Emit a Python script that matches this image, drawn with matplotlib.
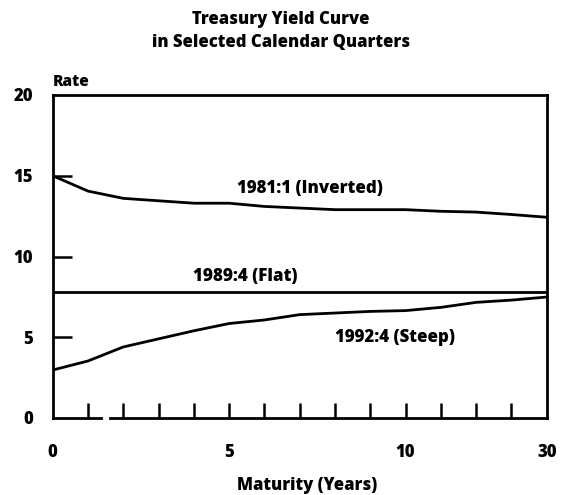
import matplotlib
matplotlib.use("Agg")
import matplotlib.pyplot as plt

# ---- data ----
maturity_pos = [0, 1, 2, 3, 4, 5, 6, 7, 8, 9, 10, 11, 12, 13, 14]
inverted_1981 = [15.0, 14.05, 13.6, 13.45, 13.3, 13.3, 13.1, 13.0, 12.9, 12.9, 12.9, 12.8, 12.75, 12.6, 12.43]
flat_1989 = [7.8] * 15
steep_1992 = [2.97, 3.53, 4.4, 4.9, 5.4, 5.85, 6.07, 6.4, 6.5, 6.6, 6.65, 6.85, 7.16, 7.3, 7.49]
xtick_pos = [0, 5, 10, 14]
xtick_labels = ["0", "5", "10", "30"]
ytick_vals = [0, 5, 10, 15, 20]
inner_xticks = list(range(1, 14))
inner_yticks = [5, 10, 15]
series_labels = ["1981:1 (Inverted)", "1989:4 (Flat)", "1992:4 (Steep)"]
title_lines = ["Treasury Yield Curve", "in Selected Calendar Quarters"]

plt.rcParams["font.family"] = ["Open Sans", "DejaVu Sans"]
W = 800
FW, FH = 566, 495

fig = plt.figure(figsize=(5.66, 4.95), dpi=100)
ax = fig.add_axes([52.7 / FW, 1 - 418 / FH, 494 / FW, 323 / FH])

lw = 2.0
ax.plot(maturity_pos, inverted_1981, color="black", lw=lw)
ax.plot(maturity_pos, flat_1989, color="black", lw=lw)
ax.plot(maturity_pos, steep_1992, color="black", lw=lw)

ax.set_xlim(0, 14)
ax.set_ylim(0, 20)

for s in ax.spines.values():
    s.set_linewidth(2.0)
ax.spines["bottom"].set_visible(False)
# bottom axis line with a small break between 1 and 2
xt = ax.get_xaxis_transform()
ax.plot([0, 1.38], [0, 0], color="black", lw=2.0, transform=xt, clip_on=False, solid_capstyle="projecting")
ax.plot([1.63, 14], [0, 0], color="black", lw=2.0, transform=xt, clip_on=False, solid_capstyle="projecting")

ax.xaxis.remove_overlapping_locs = False
ax.yaxis.remove_overlapping_locs = False

ax.set_xticks(xtick_pos, xtick_labels)
ax.tick_params(axis="x", which="major", length=0, pad=19, labelsize=12)
ax.set_xticks(inner_xticks, minor=True)
ax.tick_params(axis="x", which="minor", direction="in", length=11, width=1.8)

ax.set_yticks(ytick_vals, [str(v) for v in ytick_vals])
ax.tick_params(axis="y", which="major", length=0, pad=14, labelsize=12)
ax.set_yticks(inner_yticks, minor=True)
ax.tick_params(axis="y", which="minor", direction="in", length=14, width=1.8)
for lab in ax.get_xticklabels() + ax.get_yticklabels():
    lab.set_fontweight(W)

def px(x, y):
    # figure-pixel (from top-left) -> figure fraction
    return x / FW, 1 - y / FH

texts = []
def add(txt, cx, cy, width, ha="center"):
    fx, fy = px(cx, cy)
    t = fig.text(fx, fy, txt, ha=ha, va="center", fontsize=11, fontweight=W)
    texts.append((t, width))
    return t

add(series_labels[0], 310, 188, 146)
add(series_labels[1], 245.5, 277, 105)
add(series_labels[2], 395, 337, 120)
mat = add("Maturity (Years)", 307, 485, 140)
add("Rate", 53, 81.5, 37, ha="left")

fig.canvas.draw()
r = fig.canvas.get_renderer()
for _ in range(2):
    for t, w in texts:
        cur = t.get_window_extent(r).width
        t.set_fontsize(t.get_fontsize() * w / cur)
    fig.canvas.draw()

# title lines: same type size as the axis title, line 1 ending near x=370 px
fs = mat.get_fontsize()
t1 = fig.text(0.5, 1 - 19 / FH, title_lines[0], ha="center", va="center", fontsize=fs, fontweight=W)
fig.canvas.draw()
w1 = t1.get_window_extent(r).width
cx = (370 - w1 / 2) / FW
t1.set_x(cx)
fig.text(cx, 1 - 43 / FH, title_lines[1], ha="center", va="center", fontsize=fs, fontweight=W)

fig.savefig("out.png", dpi=100)
